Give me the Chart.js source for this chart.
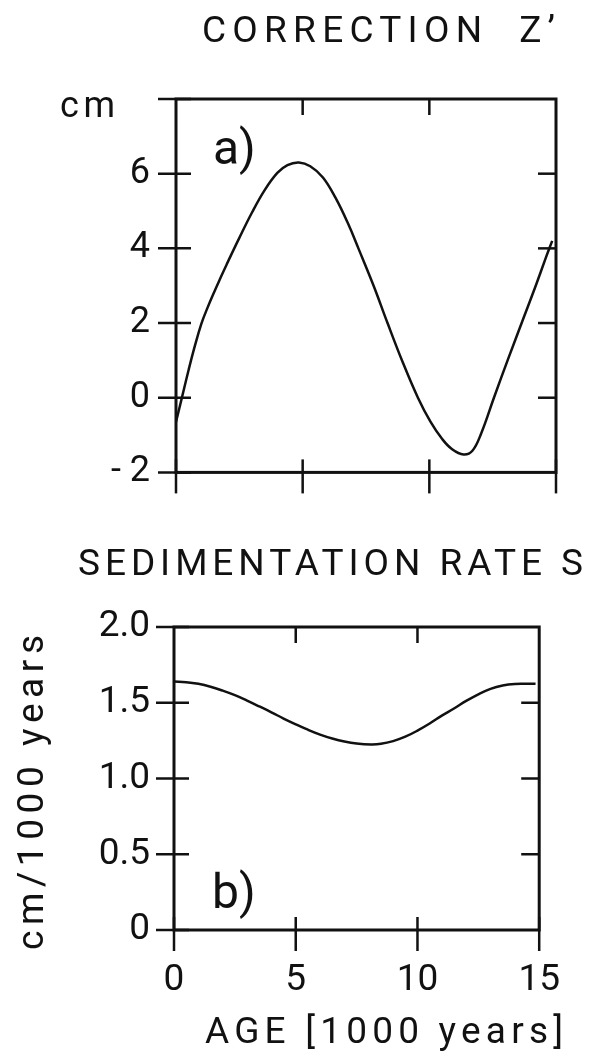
<!DOCTYPE html>
<html>
<head>
<meta charset="utf-8">
<script src="https://cdn.jsdelivr.net/npm/chart.js@4.4.0/dist/chart.umd.min.js"></script>
<style>
  html, body { margin: 0; padding: 0; background: #fff; }
  #wrap { position: relative; width: 589px; height: 1056px; }
  canvas { position: absolute; left: 0; }
</style>
</head>
<body>
<div id="wrap">
  <canvas id="chartA" width="589" height="520" style="top:0"></canvas>
  <canvas id="chartB" width="589" height="536" style="top:520px"></canvas>
</div>
<script>
// age in 1000 years
const ageTicks = [0, 5, 10, 15];

// a) correction Z' (cm)
const ageA = [0, 0.25, 0.5, 0.75, 1.0, 1.25, 1.5, 1.75, 2.0, 2.5, 3.0, 3.5, 4.0, 4.4, 4.85, 5.3, 5.8, 6.3, 6.8, 7.2,
  7.8, 8.35, 8.95, 9.55, 10.05, 10.5, 10.9, 11.35, 11.7, 12.05, 12.55, 13.1, 13.7, 14.2, 14.6, 14.85];
const corrZ = [-0.65, 0.05, 0.75, 1.4, 1.98, 2.42, 2.82, 3.2, 3.57, 4.28, 4.96, 5.56, 6.02, 6.23, 6.3, 6.2, 5.9, 5.35, 4.65, 4.0,
  3.0, 2.0, 0.95, 0.0, -0.65, -1.1, -1.38, -1.52, -1.42, -0.95, 0.0, 1.02, 2.1, 3.0, 3.75, 4.2];
const corrTicks = [-2, 0, 2, 4, 6, 8];

// b) sedimentation rate S (cm/1000 years)
const ageB = [0, 0.5, 1.0, 1.5, 2.0, 2.5, 3.0, 3.5, 4.0, 4.5, 5.0, 5.5, 6.0, 6.5, 7.0, 7.5, 8.1,
  8.5, 9.0, 9.5, 10.0, 10.5, 11.0, 11.5, 12.0, 12.5, 13.0, 13.5, 14.0, 14.5, 14.85];
const sedRate = [1.64, 1.636, 1.625, 1.606, 1.58, 1.55, 1.514, 1.476, 1.437, 1.396, 1.358, 1.322, 1.29, 1.264, 1.244, 1.231, 1.225,
  1.229, 1.247, 1.276, 1.316, 1.363, 1.415, 1.462, 1.512, 1.556, 1.592, 1.614, 1.624, 1.625, 1.625];
const sedTicks = [0, 0.5, 1.0, 1.5, 2.0];

const ink = '#111';
const family = 'Roboto, "DejaVu Sans", sans-serif';

const toPoints = (xs, ys) => xs.map((x, i) => ({ x: x, y: ys[i] }));

// box around the plot with the little ticks, in and out
const framePlugin = {
  id: 'frame',
  afterDatasetsDraw(chart, args, opts) {
    const ctx = chart.ctx;
    const a = chart.chartArea;
    const x = chart.scales.x, y = chart.scales.y;
    const seg = (x1, y1, x2, y2) => { ctx.beginPath(); ctx.moveTo(x1, y1); ctx.lineTo(x2, y2); ctx.stroke(); };
    ctx.save();
    ctx.strokeStyle = ink;
    ctx.lineWidth = 3;
    ctx.strokeRect(a.left, a.top, a.right - a.left, a.bottom - a.top);
    ctx.lineWidth = 2.5;
    opts.yTicks.forEach(v => {
      const py = y.getPixelForValue(v);
      seg(a.left - 18, py, a.left + 15, py);
      if (py > a.top + 2 && py < a.bottom - 2) seg(a.right - 18, py, a.right, py);
    });
    opts.xTicks.forEach(v => {
      const px = x.getPixelForValue(v);
      seg(px, a.bottom - 13, px, a.bottom + 21);
      if (px > a.left + 2 && px < a.right - 2) seg(px, a.top, px, a.top + 16);
    });
    ctx.restore();
  }
};

// spaced out lettering like the original plot
const textPlugin = {
  id: 'letters',
  afterDraw(chart, args, opts) {
    const ctx = chart.ctx;
    opts.items.forEach(t => {
      ctx.save();
      ctx.fillStyle = ink;
      ctx.font = t.size + 'px ' + family;
      ctx.textBaseline = 'alphabetic';
      ctx.textAlign = 'left';
      ctx.letterSpacing = '0px';
      if (t.width) {
        const w0 = ctx.measureText(t.text).width;
        ctx.letterSpacing = ((t.width - w0) / (t.text.length - 1)) + 'px';
      }
      ctx.translate(t.x, t.y);
      if (t.rotate) ctx.rotate(t.rotate);
      ctx.fillText(t.text, 0, 0);
      ctx.restore();
    });
  }
};

const lineSet = (data) => ({
  data: data,
  borderColor: ink,
  borderWidth: 2.5,
  pointRadius: 0,
  fill: false,
  tension: 0.4
});

// nudge the layout padding so the plot box lands where the original has it
function fitArea(chart, box) {
  const a = chart.chartArea;
  const p = chart.options.layout.padding;
  p.left += box.left - a.left;
  p.right += a.right - box.right;
  p.top += box.top - a.top;
  p.bottom += a.bottom - box.bottom;
  chart.update();
}

const chartA = new Chart(document.getElementById('chartA'), {
  type: 'line',
  data: { datasets: [lineSet(toPoints(ageA, corrZ))] },
  options: {
    responsive: false,
    animation: false,
    layout: { padding: { left: 0, right: 33, top: 99, bottom: 0 } },
    plugins: {
      legend: { display: false },
      tooltip: { enabled: false },
      frame: { xTicks: ageTicks, yTicks: corrTicks },
      letters: {
        items: [
          { text: 'CORRECTION  Z\u2019', x: 202, y: 42, size: 37, width: 353 },
          { text: 'cm', x: 60, y: 117, size: 36, width: 55 },
          { text: 'a)', x: 213, y: 164, size: 48 }
        ]
      }
    },
    scales: {
      x: {
        type: 'linear', min: 0, max: 15,
        ticks: { display: false },
        grid: { display: false, drawTicks: false },
        border: { display: false },
        afterFit: s => { s.height = 45; }
      },
      y: {
        min: -2, max: 8,
        afterBuildTicks: s => { s.ticks = corrTicks.map(v => ({ value: v })); },
        ticks: {
          color: ink, padding: 26,
          font: { family: family, size: 36 },
          callback: v => v === 8 ? '' : (v < 0 ? '- ' + Math.abs(v) : String(v))
        },
        grid: { display: false, drawTicks: false },
        border: { display: false },
        afterFit: s => { s.width = 176; }
      }
    }
  },
  plugins: [framePlugin, textPlugin]
});
fitArea(chartA, { left: 176, right: 556, top: 99, bottom: 475 });

const chartB = new Chart(document.getElementById('chartB'), {
  type: 'line',
  data: { datasets: [lineSet(toPoints(ageB, sedRate))] },
  options: {
    responsive: false,
    animation: false,
    layout: { padding: { left: 0, right: 33, top: 107, bottom: 0 } },
    plugins: {
      legend: { display: false },
      tooltip: { enabled: false },
      frame: { xTicks: ageTicks, yTicks: sedTicks },
      letters: {
        items: [
          { text: 'SEDIMENTATION RATE S', x: 78, y: 55, size: 37, width: 505 },
          { text: 'b)', x: 212, y: 388, size: 48 },
          { text: 'AGE [1000 years]', x: 205, y: 523, size: 37, width: 358 },
          { text: 'cm/1000 years', x: 43, y: 430, size: 37, width: 315, rotate: -Math.PI / 2 }
        ]
      }
    },
    scales: {
      x: {
        type: 'linear', min: 0, max: 15,
        afterBuildTicks: s => { s.ticks = ageTicks.map(v => ({ value: v })); },
        ticks: {
          color: ink, padding: 29,
          font: { family: family, size: 37 },
          maxRotation: 0
        },
        grid: { display: false, drawTicks: false },
        border: { display: false },
        afterFit: s => { s.height = 126; }
      },
      y: {
        min: 0, max: 2,
        afterBuildTicks: s => { s.ticks = sedTicks.map(v => ({ value: v })); },
        ticks: {
          color: ink, padding: 24,
          font: { family: family, size: 37 },
          callback: v => v === 0 ? '0' : v.toFixed(1)
        },
        grid: { display: false, drawTicks: false },
        border: { display: false },
        afterFit: s => { s.width = 174; }
      }
    }
  },
  plugins: [framePlugin, textPlugin]
});
fitArea(chartB, { left: 174, right: 556, top: 107, bottom: 410 });
</script>
</body>
</html>
